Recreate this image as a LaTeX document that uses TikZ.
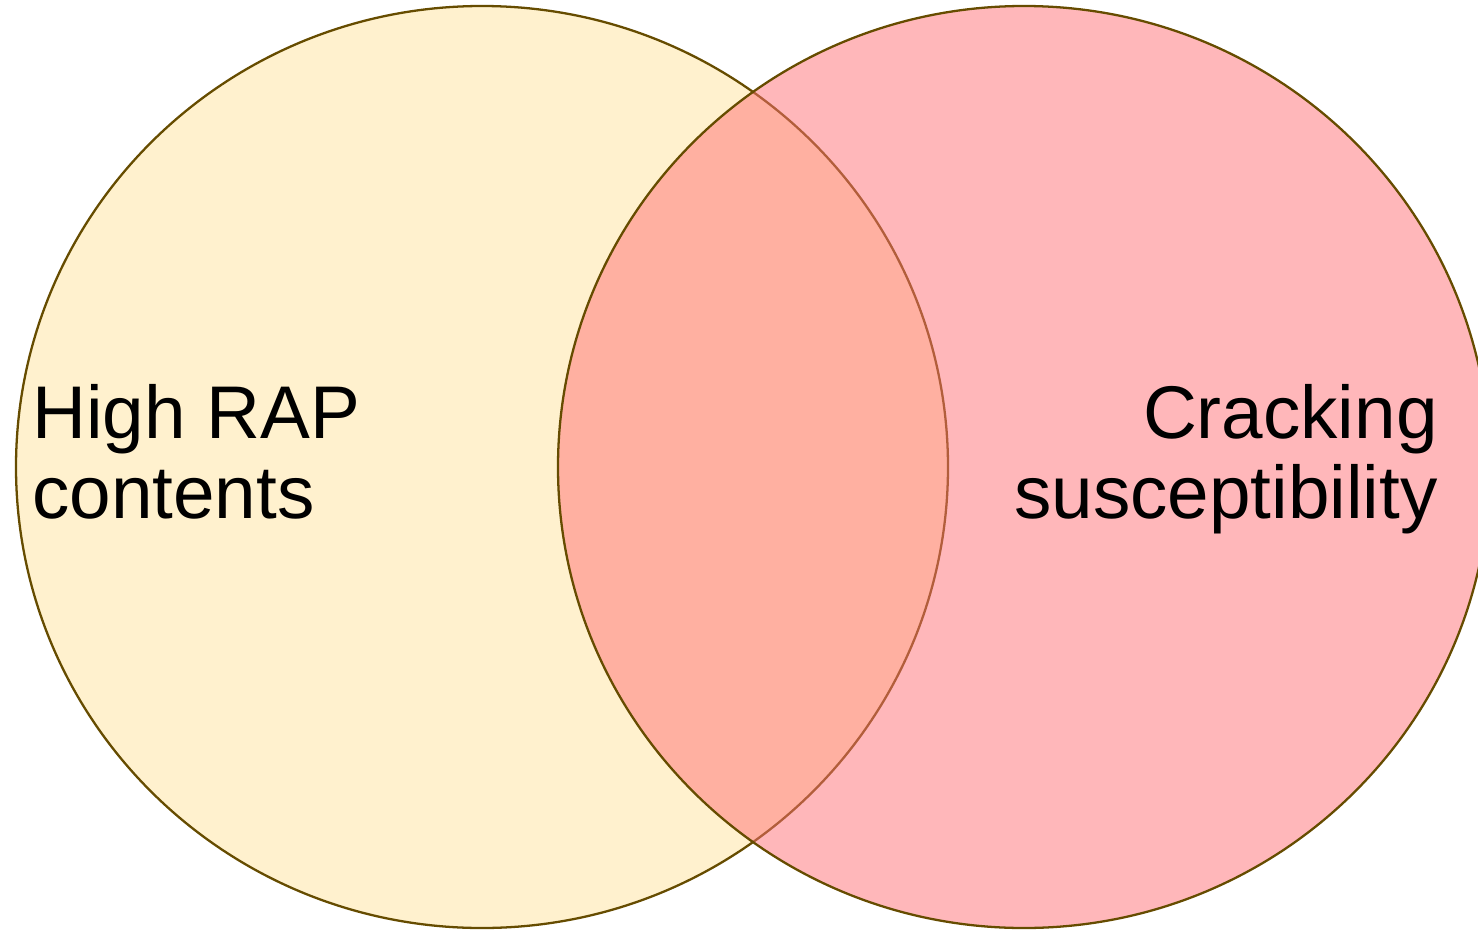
\documentclass[tikz,border=0pt]{standalone}
\usepackage{fontspec}
\setmainfont{Liberation Sans}
\usepackage{tikz}
\definecolor{rapfill}{RGB}{255,241,206}
\definecolor{crackfill}{RGB}{255,112,118}
\definecolor{vennedge}{RGB}{102,76,0}
\tikzset{
  vennset/.style={draw=vennedge, line width=1.3pt},
  vennlabel/.style={font=\fontsize{42.5}{45.5}\selectfont, inner sep=0pt},
}

\begin{document}
\begin{tikzpicture}[x=0.02cm, y=-0.02cm]
  \useasboundingbox (0,0) rectangle (1478,930);
  % High RAP contents
  \fill[rapfill] (482,467) ellipse [x radius=466, y radius=461];
  \draw[vennset] (482,467) ellipse [x radius=466, y radius=461];
  % Cracking susceptibility, see-through over the first set
  \fill[crackfill, fill opacity=0.5] (1024,467) ellipse [x radius=466, y radius=461];
  \draw[vennset] (1024,467) ellipse [x radius=466, y radius=461];
  \node[vennlabel, anchor=base west, align=left] (raplabel) at (32,518) {High RAP\\contents};
  \node[vennlabel, anchor=base east, align=right] (cracklabel) at (1438,518) {Cracking\\susceptibility};
\end{tikzpicture}
\end{document}
